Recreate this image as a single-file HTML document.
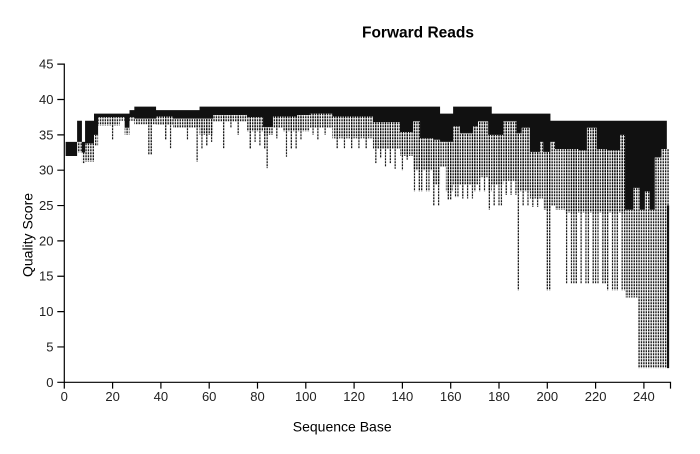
<!DOCTYPE html>
<html>
<head>
<meta charset="utf-8">
<style>
html,body{margin:0;padding:0;background:#fff;}
svg{display:block;font-family:"Liberation Sans",Arial,sans-serif;}
</style>
</head>
<body>
<svg width="700" height="454" viewBox="0 0 700 454" xmlns="http://www.w3.org/2000/svg">
<rect width="700" height="454" fill="#fff"/>
<g transform="translate(64.3,382.3) scale(2.415,-7.07)">
<defs>
<pattern id="d" patternUnits="userSpaceOnUse" x="-0.5" y="0" width="1" height="0.4243">
<rect x="0.24" y="0" width="0.52" height="0.30" fill="#000"/>
</pattern>
</defs>
<path fill="url(#d)" d="M5.3 32.5h2v1.5h-2z M7.3 31h1.3v1.5h-1.3z M8.6 31.2h3.7v2.6h-3.7z M12.3 33.5h1.7v1.5h-1.7z M14 36.3h9v1.2h-9z M23 37h2v.5h-2z M25 35h2v1h-2z M27 37h2v.5h-2z M29 36.5h9v.8h-9z M38 36.4h7v1.2h-7z M45 36h11v1.3h-11z M56 35h5.6v2.3h-5.6z M61.6 36.9h14v.9h-14z M75.6 35.5h6.7v2h-6.7z M82.3 35h4.1v1.1h-4.1z M86.4 36h4.2v1.6h-4.2z M90.6 35.5h5.8v2.1h-5.8z M96.4 35.5h5.3v2.3h-5.3z M101.7 36h9.3v2h-9.3z M111 34.5h16.8v3.1h-16.8z M127.8 33h11.2v3.8h-11.2z M139 32h5.4v3.4h-5.4z M144.4 30h2.9v6.9h-2.9z M147.3 30h5.4v4.5h-5.4z M152.7 28h2.9v6.3h-2.9z M155.6 30.5h2.4v3.5h-2.4z M158 27h3v7h-3z M161 28h2.8v8.2h-2.8z M163.8 28h5.5v7.2h-5.5z M169.3 28h2v8.2h-2z M171.3 29h4.2v7.9h-4.2z M175.5 27h1.5v8h-1.5z M177 28h4.8v7h-4.8z M181.8 28.5h5.5v8.4h-5.5z M187.3 27h2.1v8.2h-2.1z M189.4 27h3.4v9h-3.4z M192.8 26h4.2v6.6h-4.2z M197 26h1.3v8h-1.3z M198.3 24.4h3v8.2h-3z M201.3 25h1.9v9h-1.9z M203.2 24.4h4.1v8.6h-4.1z M207.3 24h5.6v9h-5.6z M212.9 24h3.5v8.8h-3.5z M216.4 24h4.1v12h-4.1z M220.5 24h4.1v9h-4.1z M224.6 24h5.5v8.8h-5.5z M230.1 24h2.1v11h-2.1z M232.2 12h3.4v12.4h-3.4z M235.6 12h1.9v15.5h-1.9z M237.5 2h.8v25.5h-.8z M238.3 2h2.1v22.4h-2.1z M240.4 2h2v25h-2z M242.4 2h2.1v22.4h-2.1z M244.5 2h2.8v29.8h-2.8z M247.3 2h2.2v31h-2.2z M249.5 25h1v8h-1z"/>
<path fill="url(#d)" d="M19.7 34.3h.6V37.5h-.6z M34.7 32.2h.6V37.3h-.6z M35.7 32.2h.6V37.3h-.6z M41.7 34.3h.6V37.6h-.6z M43.7 33.1h.6V37.6h-.6z M50.7 34.3h.6V37.3h-.6z M54.7 31.2h.6V37.3h-.6z M56.7 33h.6V37.3h-.6z M58.7 33.5h.6V37.3h-.6z M60.7 34h.6V37.3h-.6z M65.7 33.1h.6V37.8h-.6z M68.7 36h.6V37.8h-.6z M71.7 35h.6V37.8h-.6z M76.7 33h.6V37.5h-.6z M78.7 34h.6V37.5h-.6z M80.7 33.5h.6V37.5h-.6z M82.7 33h.6V36.1h-.6z M83.7 30.3h.6V36.1h-.6z M87.7 34.5h.6V37.6h-.6z M91.7 31.9h.6V37.6h-.6z M93.7 33h.6V37.6h-.6z M95.7 33h.6V37.6h-.6z M97.7 34.3h.6V37.8h-.6z M102.7 35h.6V38h-.6z M104.7 34.3h.6V38h-.6z M107.7 35h.6V38h-.6z M112.7 33.1h.6V37.6h-.6z M115.7 33.1h.6V37.6h-.6z M118.7 33.1h.6V37.6h-.6z M121.7 33.1h.6V37.6h-.6z M124.7 33.1h.6V37.6h-.6z M128.7 31h.6V36.8h-.6z M130.7 31.7h.6V36.8h-.6z M132.7 30.5h.6V36.8h-.6z M134.7 31h.6V36.8h-.6z M136.7 30.2h.6V36.8h-.6z M139.7 30h.6V35.4h-.6z M141.7 31.5h.6V35.4h-.6z M144.7 27h.6V36.9h-.6z M146.7 27h.6V36.9h-.6z M147.7 27h.6V34.5h-.6z M149.7 27h.6V34.5h-.6z M150.7 27h.6V34.5h-.6z M152.7 25h.6V34.3h-.6z M154.7 25h.6V34.3h-.6z M158.7 25.8h.6V34h-.6z M159.7 25.8h.6V34h-.6z M161.7 26.2h.6V36.2h-.6z M162.7 26.2h.6V36.2h-.6z M164.7 26h.6V35.2h-.6z M166.7 26h.6V35.2h-.6z M168.7 26h.6V35.2h-.6z M169.7 27h.6V36.2h-.6z M171.7 27h.6V36.9h-.6z M173.7 27h.6V36.9h-.6z M175.7 24.4h.6V35h-.6z M177.7 25h.6V35h-.6z M179.7 25h.6V35h-.6z M180.7 25h.6V35h-.6z M182.7 26.5h.6V36.9h-.6z M184.7 26.5h.6V36.9h-.6z M186.7 26.5h.6V36.9h-.6z M187.7 13h.6V35.2h-.6z M189.7 25h.6V36h-.6z M191.7 25h.6V36h-.6z M193.7 24.8h.6V32.6h-.6z M195.7 24.8h.6V32.6h-.6z M199.7 13h.6V32.6h-.6z M200.7 13h.6V32.6h-.6z M207.7 14h.6V33h-.6z M209.7 14h.6V33h-.6z M210.7 14h.6V33h-.6z M211.7 14h.6V33h-.6z M213.7 14h.6V32.8h-.6z M215.7 14h.6V32.8h-.6z M216.7 14h.6V36h-.6z M218.7 14h.6V36h-.6z M219.7 14h.6V36h-.6z M220.7 14h.6V33h-.6z M222.7 14h.6V33h-.6z M223.7 14h.6V33h-.6z M224.7 13h.6V32.8h-.6z M226.7 13h.6V32.8h-.6z M227.7 13h.6V32.8h-.6z M228.7 13h.6V32.8h-.6z M230.7 13h.6V35h-.6z M231.7 13h.6V35h-.6z"/>
<path fill="#111" d="M0.55 32h4.75V34h-4.75z M5.3 34h2V37h-2z M7.3 32.5h1.3V34h-1.3z M8.6 33.8h3.7V37h-3.7z M12.3 35h1.7V38h-1.7z M14 37.5h9V38h-9z M23 37.5h2V38h-2z M25 36h2V38h-2z M27 37.5h2V38.5h-2z M29 37.3h9V39h-9z M38 37.6h7V38.5h-7z M45 37.3h11V38.5h-11z M56 37.3h5.6V39h-5.6z M61.6 37.8h14V39h-14z M75.6 37.5h6.7V39h-6.7z M82.3 36.1h4.1V39h-4.1z M86.4 37.6h4.2V39h-4.2z M90.6 37.6h5.8V39h-5.8z M96.4 37.8h5.3V39h-5.3z M101.7 38h9.3V39h-9.3z M111 37.6h16.8V39h-16.8z M127.8 36.8h11.2V39h-11.2z M139 35.4h5.4V39h-5.4z M144.4 36.9h2.9V39h-2.9z M147.3 34.5h5.4V39h-5.4z M152.7 34.3h2.9V39h-2.9z M155.6 34h5.4V38h-5.4z M161 36.2h2.8V39h-2.8z M163.8 35.2h5.5V39h-5.5z M169.3 36.2h2V39h-2z M171.3 36.9h4.2V39h-4.2z M175.5 35h1.5V39h-1.5z M177 35h4.8V38h-4.8z M181.8 36.9h5.5V38h-5.5z M187.3 35.2h2.1V38h-2.1z M189.4 36h3.4V38h-3.4z M192.8 32.6h4.2V38h-4.2z M197 34h1.3V38h-1.3z M198.3 32.6h3V38h-3z M201.3 34h1.9V37h-1.9z M203.2 33h9.7V37h-9.7z M212.9 32.8h3.5V37h-3.5z M216.4 36h4.1V37h-4.1z M220.5 33h4.1V37h-4.1z M224.6 32.8h5.5V37h-5.5z M230.1 35h2.1V37h-2.1z M232.2 24.4h3.4V37h-3.4z M235.6 27.5h2.7V37h-2.7z M238.3 24.4h2.1V37h-2.1z M240.4 27h2V37h-2z M242.4 24.4h2.1V37h-2.1z M244.5 31.8h2.8V37h-2.8z M247.3 33h2.2V37h-2.2z M249.55 2h.9V25h-.9z"/>
</g>
<g fill="none" stroke="#000" stroke-width="1.2">
<path d="M57.3,64.15H64.3V382.3H57.3"/>
<path d="M64.3,388.6V382.3H670.5V388.6"/>
<path d="M57.3,99.5H64.3M57.3,134.85H64.3M57.3,170.2H64.3M57.3,205.55H64.3M57.3,240.9H64.3M57.3,276.25H64.3M57.3,311.6H64.3M57.3,346.95H64.3"/>
<path d="M112.6,382.3V388.6M160.9,382.3V388.6M209.2,382.3V388.6M257.5,382.3V388.6M305.8,382.3V388.6M354.1,382.3V388.6M402.4,382.3V388.6M450.7,382.3V388.6M499,382.3V388.6M547.3,382.3V388.6M595.6,382.3V388.6M643.9,382.3V388.6"/>
</g>
<g font-size="13" fill="#222" text-anchor="end">
<text x="53.5" y="68.7">45</text>
<text x="53.5" y="104">40</text>
<text x="53.5" y="139.4">35</text>
<text x="53.5" y="174.7">30</text>
<text x="53.5" y="210">25</text>
<text x="53.5" y="245.4">20</text>
<text x="53.5" y="280.7">15</text>
<text x="53.5" y="316.1">10</text>
<text x="53.5" y="351.4">5</text>
<text x="53.5" y="386.8">0</text>
</g>
<g font-size="13" fill="#222" text-anchor="middle">
<text x="64.3" y="401">0</text>
<text x="112.6" y="401">20</text>
<text x="160.9" y="401">40</text>
<text x="209.2" y="401">60</text>
<text x="257.5" y="401">80</text>
<text x="305.8" y="401">100</text>
<text x="354.1" y="401">120</text>
<text x="402.4" y="401">140</text>
<text x="450.7" y="401">160</text>
<text x="499" y="401">180</text>
<text x="547.3" y="401">200</text>
<text x="595.6" y="401">220</text>
<text x="643.9" y="401">240</text>
</g>
<text x="418" y="37.5" font-size="15.5" font-weight="bold" text-anchor="middle" fill="#000">Forward Reads</text>
<text x="342.2" y="431.5" font-size="14" text-anchor="middle" fill="#000">Sequence Base</text>
<text transform="translate(32.5,235) rotate(-90)" font-size="14" text-anchor="middle" fill="#000">Quality Score</text>
</svg>
</body>
</html>
